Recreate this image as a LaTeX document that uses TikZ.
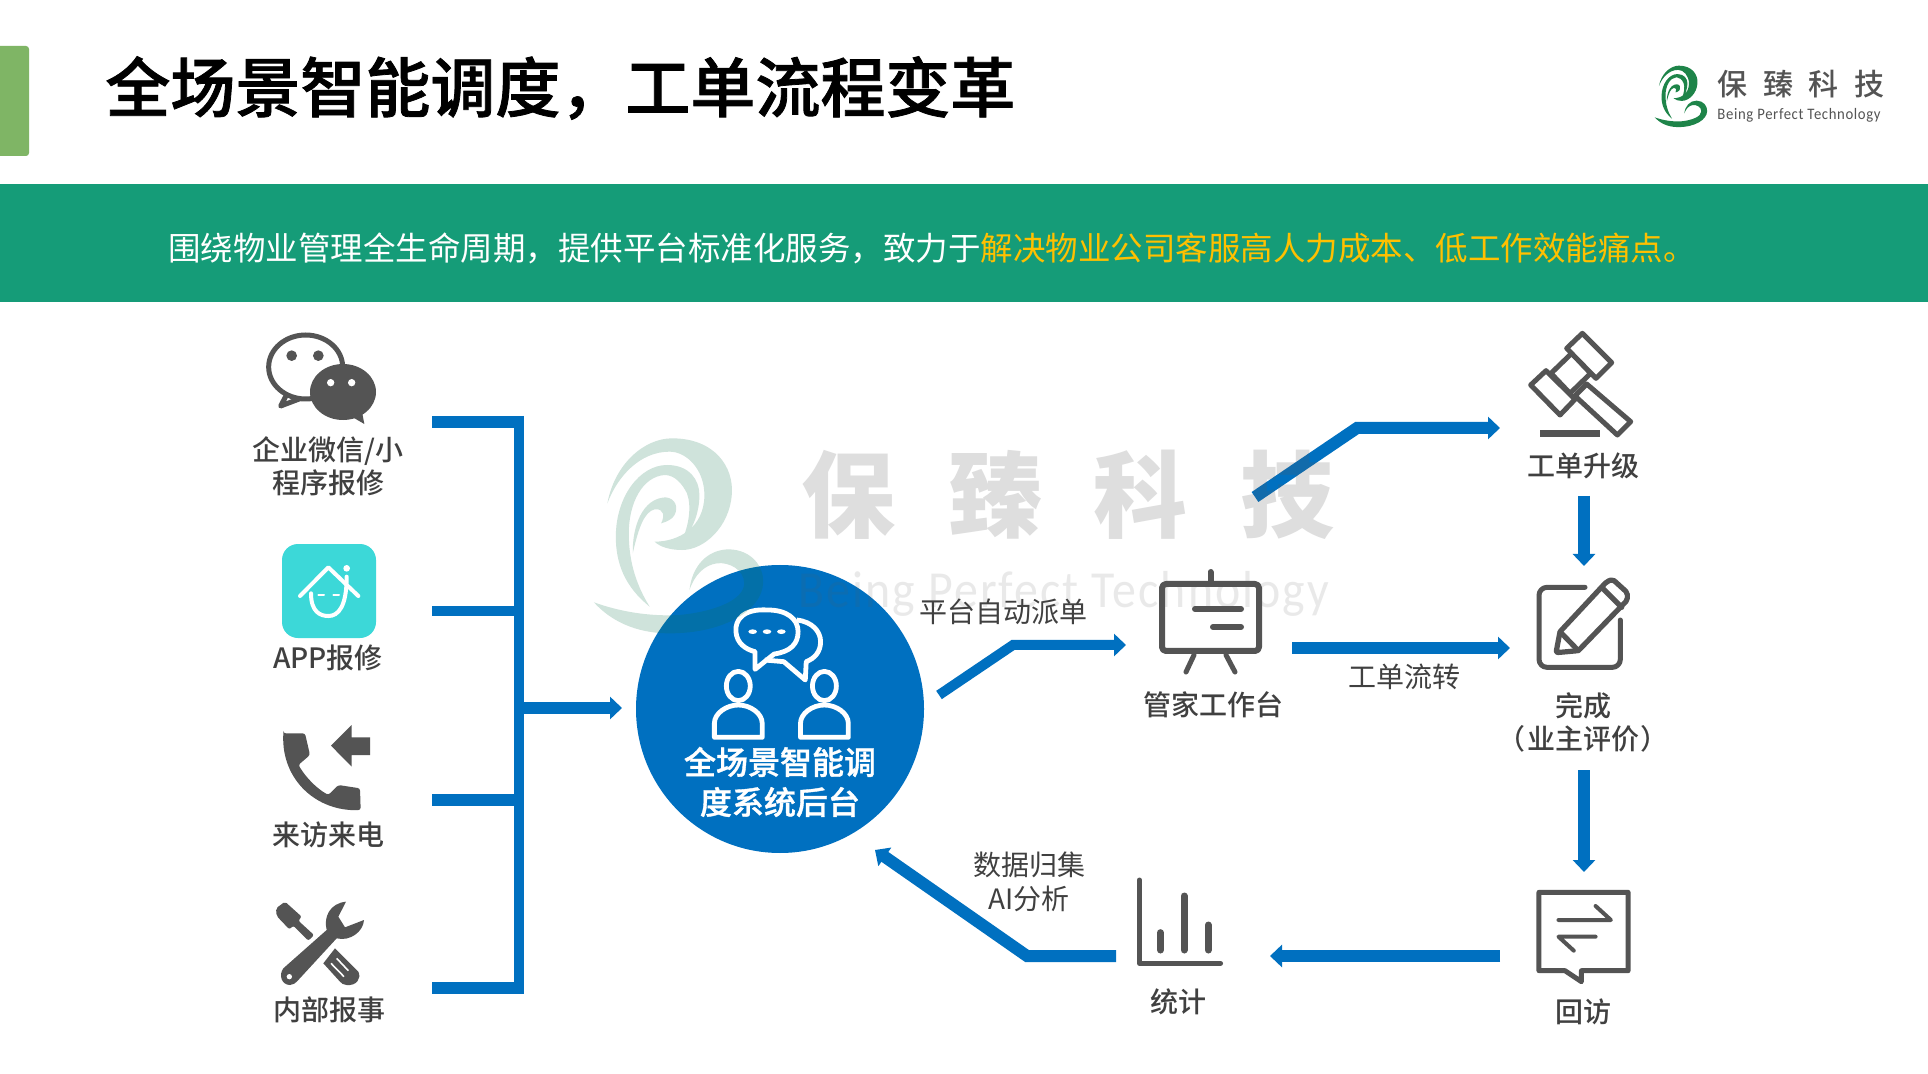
\documentclass[tikz,border=0pt]{standalone}
\usepackage{fontspec}
\setmainfont{Noto Sans CJK SC}
\newfontfamily\cjkm{Noto Sans CJK SC Medium}
\newfontfamily\cjkheavy[FakeBold=1.2]{Noto Sans CJK SC Medium}
\newfontfamily\enmark[LetterSpace=4,FakeStretch=0.92]{Carlito}
\usetikzlibrary{arrows.meta}
\definecolor{tabgreen}{HTML}{7FB565}
\definecolor{bandgreen}{HTML}{159C78}
\definecolor{bandyellow}{HTML}{FFC000}
\definecolor{flow}{HTML}{0070C0}
\definecolor{icongray}{HTML}{545454}
\definecolor{txtgray}{HTML}{404040}
\definecolor{appteal}{HTML}{3CD8D8}
\definecolor{logogreen}{HTML}{1E8449}
\definecolor{wmgreen}{HTML}{0F734B}
\definecolor{wmgray}{HTML}{5A5A5A}
\tikzset{
  flowline/.style={draw=flow,line width=6pt},
  flowarrow/.style={flowline,-{Triangle[length=6pt,width=11pt]}},
  iconline/.style={draw=icongray,line width=2.5pt,line join=round,line cap=round},
  lab/.style={text=txtgray,font=\cjkm\fontsize{14}{16.5}\selectfont,align=center,inner sep=0pt},
  edgelab/.style={text=txtgray,font=\fontsize{14}{17}\selectfont,align=center,inner sep=0pt},
  zthree/.style={x=0.16667pt,y=-0.16667pt},
  wmchar/.style={text=wmgray,text opacity=0.2,font=\bfseries\fontsize{47}{50}\selectfont,inner sep=0pt},
  logochar/.style={text=icongray,font=\cjkm\fontsize{15}{18}\selectfont,inner sep=0pt},
}
\newcommand{\bpswirl}[1]{%
  \fill[#1]
  (55,250) .. controls (70,130) and (130,55) .. (185,55) .. controls (270,55) and (310,140) .. (305,225) .. controls (300,320) and (250,390) .. (205,390) .. controls (180,390) and (160,380) .. (150,365) .. controls (200,365) and (250,320) .. (250,225) .. controls (250,150) and (215,95) .. (180,95) .. controls (120,95) and (75,170) .. (55,250) -- cycle
  (140,560) .. controls (90,500) and (72,430) .. (72,350) .. controls (72,230) and (120,135) .. (175,135) .. controls (220,135) and (240,180) .. (240,225) .. controls (240,280) and (225,335) .. (205,360) .. controls (218,320) and (225,260) .. (215,220) .. controls (205,190) and (190,165) .. (170,165) .. controls (125,170) and (98,250) .. (98,340) .. controls (98,430) and (115,500) .. (140,560) -- cycle
  (172,232) .. controls (192,235) and (198,262) .. (190,285) .. controls (185,298) and (175,305) .. (163,310) .. controls (170,290) and (170,265) .. (150,268) .. controls (130,275) and (118,320) .. (106,400) .. controls (105,320) and (125,235) .. (172,232) -- cycle
  (28,547) .. controls (80,575) and (140,590) .. (200,585) .. controls (270,575) and (330,540) .. (330,490) .. controls (330,450) and (300,425) .. (275,430) .. controls (250,435) and (230,465) .. (220,510) .. controls (225,440) and (255,388) .. (300,388) .. controls (345,390) and (370,440) .. (368,490) .. controls (365,570) and (290,640) .. (180,640) .. controls (110,640) and (60,600) .. (28,547) -- cycle;}
\begin{document}
\begin{tikzpicture}[x=0.5pt,y=-0.5pt]
\useasboundingbox (0,0) rectangle (1928,1074);
\fill[white] (0,0) rectangle (1928,1074);
% header
\fill[tabgreen,rounded corners=1.5pt] (-10,46) rectangle (29,156);
\node[anchor=west,inner sep=0pt,font=\cjkheavy\fontsize{32.5}{36}\selectfont,text=black] (title) at (105,88) {全场景智能调度，工单流程变革};
\fill[bandgreen] (0,184) rectangle (1928,302);
\node[anchor=west,inner sep=0pt,text=white,font=\fontsize{16.25}{20}\selectfont] (banner) at (168,248) {围绕物业管理全生命周期，提供平台标准化服务，致力于{\color{bandyellow}解决物业公司客服高人力成本、低工作效能痛点。}};
% logo
\begin{scope}[shift={(1650.4,59.9)},x=0.0771pt,y=-0.0525pt]
\bpswirl{logogreen}
\end{scope}
\node[logochar] (logoa) at (1732,84) {保};
\node[logochar] (logob) at (1778,84) {臻};
\node[logochar] (logoc) at (1823,84) {科};
\node[logochar] (logod) at (1869,84) {技};
\node[text=icongray,font=\enmark\fontsize{8}{9}\selectfont,inner sep=0pt] (logoe) at (1799,115) {Being Perfect Technology};

% coordinates of connector ends
\coordinate (srcA) at (432,422);
\coordinate (busA) at (524,422);
\coordinate (srcB) at (432,611);
\coordinate (busB) at (519,611);
\coordinate (srcC) at (432,800);
\coordinate (busC) at (519,800);
\coordinate (srcD) at (432,988);
\coordinate (busD) at (524,988);
\coordinate (busTop) at (519,416);
\coordinate (busBot) at (519,994);
\coordinate (busOut) at (519,708);
\coordinate (toHub) at (622,708);
\coordinate (fromHub) at (939,695);
\coordinate (bendA) at (1013,645);
\coordinate (toDesk) at (1126,645);
\coordinate (fromDeskUp) at (1255,497);
\coordinate (bendB) at (1357,428);
\coordinate (toGavel) at (1500,428);
\coordinate (fromGavel) at (1584,496);
\coordinate (toEdit) at (1584,566);
\coordinate (fromDesk) at (1292,648);
\coordinate (toEditB) at (1510,648);
\coordinate (fromEdit) at (1584,770);
\coordinate (toVisit) at (1584,872);
\coordinate (fromVisit) at (1500,956);
\coordinate (toChart) at (1270,956);
\coordinate (fromChart) at (1116,956);
\coordinate (bendC) at (1027,956);
\coordinate (toHubB) at (875,850);

% connectors
\draw[flowline,line width=5pt] (busTop) -- (busBot);
\draw[flowline] (srcA) -- (busA);
\draw[flowline,line width=5pt] (srcB) -- (busB);
\draw[flowline] (srcC) -- (busC);
\draw[flowline] (srcD) -- (busD);
\draw[flowarrow] (busOut) -- (toHub);
\draw[flowarrow,line width=5pt] (fromHub) -- (bendA) -- (toDesk);
\draw[flowarrow] (fromDeskUp) -- (bendB) -- (toGavel);
\draw[flowarrow] (fromGavel) -- (toEdit);
\draw[flowarrow] (fromDesk) -- (toEditB);
\draw[flowarrow] (fromEdit) -- (toVisit);
\draw[flowarrow] (fromVisit) -- (toChart);
\draw[flowarrow] (fromChart) -- (bendC) -- (toHubB);

% hub
\node[circle,fill=flow,minimum size=144pt,inner sep=0pt] (hub) at (780,709) {};
\begin{scope}[shift={(590,430)},x=0.2392pt,y=-0.16667pt]
\draw[white,line width=2.4pt,line join=round] (372,540) .. controls (320,535) and (303,570) .. (305,605) .. controls (307,640) and (325,658) .. (345,665) -- (345,718) -- (385,672) .. controls (420,665) and (435,640) .. (435,605) .. controls (435,565) and (410,540) .. (372,540) -- cycle;
\draw[white,line width=2.4pt,line join=round] (432,570) .. controls (465,575) and (482,605) .. (482,635) .. controls (482,665) and (470,685) .. (452,695) -- (450,750) -- (405,695) -- (365,690);
\fill[white] (340,605) circle[x radius=9,y radius=7] (370,605) circle[x radius=9,y radius=7] (400,605) circle[x radius=9,y radius=7];
\foreach \dx in {0,180}{
  \draw[white,line width=2.4pt,line join=round] (310+\dx,768) ellipse[x radius=25,y radius=44];
  \draw[white,line width=2.4pt,line join=round] (260+\dx,922) -- (260+\dx,880) .. controls (260+\dx,850) and (285+\dx,825) .. (310+\dx,825) .. controls (335+\dx,825) and (360+\dx,850) .. (360+\dx,880) -- (360+\dx,922) -- cycle;
}
\end{scope}
\node[text=white,font=\cjkheavy\fontsize{16}{20}\selectfont,align=center,inner sep=0pt] (hubtext) at (780,782) {全场景智能调\\度系统后台};

% WeChat icon
\begin{scope}[shift={(230,310)},zthree]
\draw[iconline,fill=white] (172,250) -- (152,288) -- (210,266);
\draw[iconline,fill=white] (227,171) ellipse[x radius=111,y radius=96];
\fill[icongray] (339,246) ellipse[x radius=99,y radius=84];
\fill[icongray] (365,320) -- (403,342) -- (395,300) -- cycle;
\fill[icongray] (185,137) circle[radius=16] (265,137) circle[radius=16];
\fill[white] (302,218) circle[radius=11] (365,218) circle[radius=11];
% APP icon
\fill[appteal,rounded corners=8pt] (156,702) rectangle (438,984);
\draw[white,line width=2pt,line cap=round,line join=round] (210,858) -- (295,772) -- (385,858);
\draw[white,line width=2pt,line cap=round] (243,850) .. controls (243,905) and (270,918) .. (295,918) .. controls (325,918) and (350,890) .. (350,800);
\fill[white] (350,775) circle[radius=10];
\draw[white,line width=1pt,line cap=round] (265,855) -- (282,855) (310,855) -- (327,855);
\end{scope}
\node[lab] (labA) at (328,466) {企业微信/小\\程序报修};
\node[lab] (labB) at (328,658) {APP报修};

% Phone + tools
\begin{scope}[shift={(230,700)},zthree]
\fill[icongray,rounded corners=1.2pt] (160,100) -- (225,100) -- (240,165) -- (205,195) .. controls (230,235) and (260,265) .. (295,285) -- (325,255) -- (390,265) -- (392,330) .. controls (260,335) and (155,240) .. (160,100) -- cycle;
\fill[icongray] (303,137) -- (365,75) -- (365,112) -- (420,112) -- (420,165) -- (365,165) -- (365,200) -- cycle;
\fill[icongray,line join=round] (348,605) .. controls (300,610) and (280,650) .. (290,690) -- (160,805) .. controls (145,825) and (155,855) .. (180,855) .. controls (190,855) and (195,850) .. (205,840) -- (320,715) .. controls (360,725) and (400,695) .. (402,660) -- (345,682) -- (325,650) -- cycle;
\fill[white] (178,830) circle[radius=8];
\fill[icongray,rounded corners=1pt] (165,605) -- (215,650) -- (205,662) -- (252,705) -- (235,722) -- (190,677) -- (178,688) -- (140,648) -- (138,625) -- cycle;
\fill[icongray] (315,745) -- (385,815) .. controls (395,835) and (380,858) .. (350,855) .. controls (340,855) and (335,850) .. (330,845) -- (280,790) -- cycle;
\draw[white,line width=0.8pt] (320,775) -- (355,812) (303,790) -- (342,830);
\end{scope}
\node[lab] (labC) at (328,835) {来访来电};
\node[lab] (labD) at (329,1010) {内部报事};

% Manager board
\draw[iconline,line width=3pt,rounded corners=2pt] (1162,584) rectangle (1259,651);
\draw[iconline,line width=3pt] (1210.5,572) -- (1210.5,582);
\draw[iconline,line width=3pt] (1195,609) -- (1241,609) (1213,627) -- (1241,627);
\draw[iconline] (1194,655) -- (1186,672) (1226,655) -- (1235,672);
\node[lab] (labDesk) at (1213,705) {管家工作台};
\node[edgelab] (labDispatch) at (1003,612) {平台自动派单};
\node[edgelab] (labTransfer) at (1404,677) {工单流转};
\node[edgelab] (labData) at (1029,882) {数据归集\\AI分析};

% Gavel and edit icons
\begin{scope}[shift={(1240,310)},zthree]
\draw[iconline,fill=white] (1040,222) -- (1172,335) -- (1132,375) -- (1005,258) -- cycle;
\draw[iconline,fill=white] (995,130) -- (1052,190) -- (990,250) -- (933,190) -- cycle;
\draw[iconline,fill=white] (1027,70) -- (1115,158) -- (1068,205) -- (980,115) -- cycle;
\draw[iconline,fill=white] (918,182) -- (1005,268) -- (960,315) -- (872,225) -- cycle;
\draw[icongray,line width=3.2pt] (900,371) -- (1080,371);
\draw[iconline,rounded corners=4pt] (1035,832) -- (897,832) -- (897,1072) -- (1141,1072) -- (1141,930);
\draw[iconline,line width=2.6pt,fill=white,rounded corners=1pt] (948,1028) -- (960,965) -- (1100,815) -- (1118,808) -- (1162,848) -- (1162,870) -- (1015,1022) -- cycle;
\draw[iconline,line width=2.6pt] (1085,832) -- (1145,892);
\draw[iconline,line width=2.6pt] (960,965) -- (1015,1022);
\end{scope}
\node[lab] (labGavel) at (1583,466) {工单升级};
\node[lab] (labEdit) at (1583,722) {完成\\（\hspace{1pt}业主评价\hspace{1pt}）};

% Chart and callback icons
\begin{scope}[shift={(1100,760)},x=0.19135pt,y=-0.16667pt]
\draw[iconline] (103,360) -- (103,610) -- (315,610);
\draw[iconline,line width=3.5pt] (158,518) -- (158,570) (220,408) -- (220,570) (283,495) -- (283,570);
\draw[iconline] (1147,397) -- (1380,397) -- (1380,632) -- (1258,632) -- (1258,665) -- (1215,632) -- (1147,632) -- cycle;
\draw[iconline,line width=2pt] (1198,480) -- (1335,480) -- (1295,438);
\draw[iconline,line width=2pt] (1295,530) -- (1198,530) -- (1238,572);
\end{scope}
\node[lab] (labChart) at (1178,1002) {统计};
\node[lab] (labVisit) at (1583,1012) {回访};

% Watermark, over everything else
\begin{scope}[shift={(580,420)},x=0.2488pt,y=-0.16667pt]
\bpswirl{wmgreen,fill opacity=0.2}
\end{scope}
\node[wmchar] (wma) at (848,495) {保};
\node[wmchar] (wmb) at (995,495) {臻};
\node[wmchar] (wmc) at (1140,495) {科};
\node[wmchar] (wmd) at (1287,495) {技};
\node[text=wmgray,text opacity=0.13,font=\enmark\fontsize{26}{28}\selectfont,inner sep=0pt] (wme) at (1064,594) {Being Perfect Technology};
\end{tikzpicture}
\end{document}
